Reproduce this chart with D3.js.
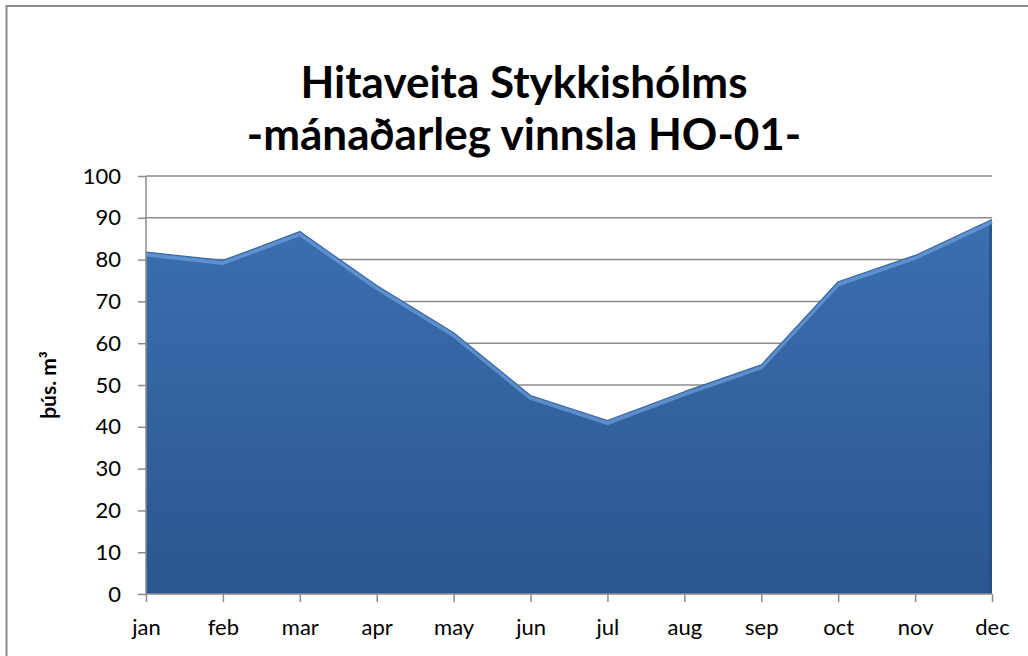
<!DOCTYPE html>
<html><head><meta charset="utf-8">
<script src="https://cdn.jsdelivr.net/npm/d3@7/dist/d3.min.js"></script>
<style>body{margin:0;background:#fff}svg{display:block}</style>
</head><body>
<script>
const months = ["jan","feb","mar","apr","may","jun","jul","aug","sep","oct","nov","dec"];
const values = [81.8, 79.8, 86.7, 73.8, 62.5, 47.5, 41.5, 48.4, 54.8, 74.7, 81.0, 89.6];
const yTicks = [0,10,20,30,40,50,60,70,80,90,100];
const titleLines = ["Hitaveita Stykkishólms", "-mánaðarleg vinnsla HO-01-"];
const yLabel = "þús. m³";

const W = 1028, H = 656;
const svg = d3.select("body").append("svg").attr("width", W).attr("height", H);
const font = "Lato, 'Open Sans', sans-serif";

svg.append("rect").attr("x",6.5).attr("y",6).attr("width",1040).attr("height",700)
  .attr("fill","#fff").attr("stroke","#8c8c8c").attr("stroke-width",2);

const x = d3.scalePoint().domain(months).range([146, 992]);
const y = d3.scaleLinear().domain([0,100]).range([594, 176]);

const defs = svg.append("defs");
const g1 = defs.append("linearGradient").attr("id","fillg").attr("x1",0).attr("y1",0).attr("x2",0).attr("y2",1);
g1.append("stop").attr("offset","0%").attr("stop-color","#3b6fb0");
g1.append("stop").attr("offset","100%").attr("stop-color","#2b5690");

// gridlines
svg.append("g").selectAll("line").data(yTicks.filter(d=>d>0)).join("line")
  .attr("x1",146).attr("x2",992).attr("y1",d=>y(d)).attr("y2",d=>y(d))
  .attr("stroke","#8c8c8c").attr("stroke-width",1.5);

const data = months.map((m,i)=>({m, v: values[i]}));
const area = d3.area().x(d=>x(d.m)).y0(y(0)).y1(d=>y(d.v));
const line = d3.line().x(d=>x(d.m)).y(d=>y(d.v));

svg.append("path").datum(data).attr("d",area).attr("fill","url(#fillg)");
// right edge shadow
svg.append("line").attr("x1",x("dec")-1.5).attr("x2",x("dec")-1.5).attr("y1",y(values[11])+4).attr("y2",y(0))
  .attr("stroke","#24497a").attr("stroke-width",3).attr("opacity",0.6);
// bevel highlight on top edge
svg.append("path").datum(data).attr("d",line).attr("fill","none")
  .attr("stroke","#6d9fdc").attr("stroke-width",4).attr("opacity",0.7)
  .attr("transform","translate(0,2.5)").attr("stroke-linejoin","round");
svg.append("path").datum(data).attr("d",line).attr("fill","none")
  .attr("stroke","#3a6aa5").attr("stroke-width",1.2).attr("stroke-linejoin","round");

// y axis
const yAxis = d3.axisLeft(y).tickValues(yTicks).tickSize(8).tickPadding(17);
const ya = svg.append("g").attr("transform","translate(146,0)").call(yAxis);
ya.select(".domain").attr("stroke","#8c8c8c").attr("stroke-width",1.5).attr("d","M0,176V594");
ya.selectAll(".tick line").attr("stroke","#8c8c8c").attr("stroke-width",1.5);
ya.selectAll("text").attr("font-family",font).attr("font-size",22).attr("fill","#000");

// x axis
const xAxis = d3.axisBottom(x).tickSize(8).tickPadding(17);
const xa = svg.append("g").attr("transform","translate(0,594)").call(xAxis);
xa.select(".domain").attr("stroke","#8c8c8c").attr("stroke-width",1.5).attr("d","M146,0H992");
xa.selectAll(".tick line").attr("stroke","#8c8c8c").attr("stroke-width",1.5);
xa.selectAll("text").attr("font-family",font).attr("font-size",22).attr("fill","#000");

// title
svg.append("g").selectAll("text").data(titleLines).join("text")
  .attr("x",524).attr("y",(d,i)=>98+i*52).attr("text-anchor","middle")
  .attr("font-family",font).attr("font-weight","bold").attr("font-size",44).attr("fill","#000")
  .text(d=>d);

svg.append("text").attr("transform","translate(56,385) rotate(-90)").attr("text-anchor","middle")
  .attr("font-family",font).attr("font-weight","bold").attr("font-size",21).text(yLabel);
</script>
</body></html>
